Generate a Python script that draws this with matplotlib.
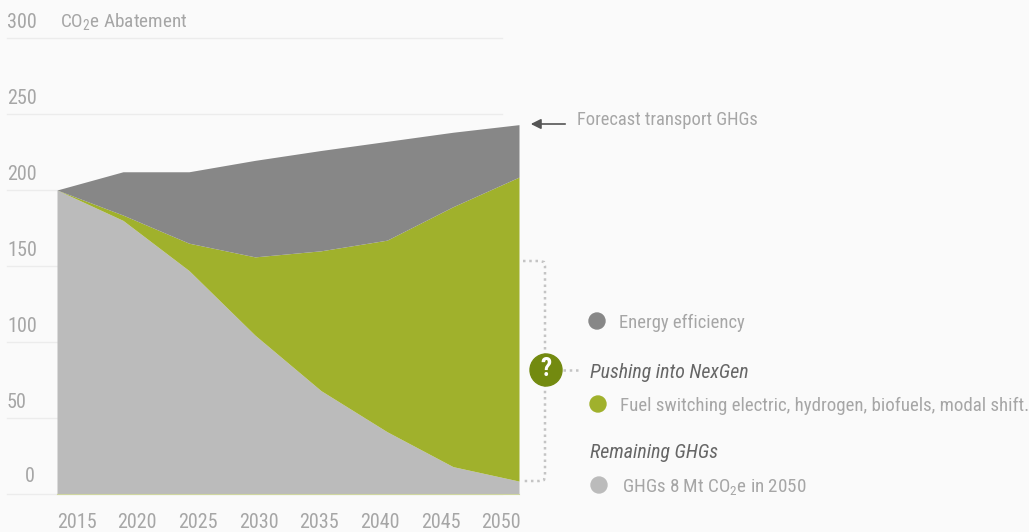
import matplotlib
matplotlib.use('Agg')
import matplotlib.pyplot as plt
from matplotlib.patches import Circle

plt.rcParams['font.family'] = ['Roboto Condensed', 'Roboto', 'DejaVu Sans']
plt.rcParams['mathtext.fontset'] = 'custom'
plt.rcParams['mathtext.rm'] = 'Roboto Condensed'
plt.rcParams['mathtext.default'] = 'regular'

years = [2015, 2020, 2025, 2030, 2035, 2040, 2045, 2050]
remaining_top = [200, 180, 147, 104.5, 68, 41, 18, 8.5]
fuel_top = [200, 183.5, 165, 156, 160, 167, 189, 208.5]
efficiency_top = [200, 212, 212, 219.5, 226, 232, 238, 243]

y_ticks = [0, 50, 100, 150, 200, 250, 300]
x_labels = ['2015', '2020', '2025', '2030', '2035', '2040', '2045', '2050']
x_label_px = [77, 137, 198, 259, 319, 380, 441, 501]

bg = '#fafafa'
grey_text = '#a6a6a6'
dark_text = '#666666'
c_remaining = '#bbbbbb'
c_fuel = '#a0b12c'
c_eff = '#878787'
W, H = 1029, 532

fig = plt.figure(figsize=(W / 100, H / 100), dpi=100, facecolor=bg)

# overlay in pixel coords for gridlines, labels and legend
ov = fig.add_axes([0, 0, 1, 1], zorder=0)
ov.set_xlim(0, W)
ov.set_ylim(H, 0)
ov.axis('off')

# chart area: 57-519 px across, 300 at y=38 and 0 at y=494
ax = fig.add_axes([57 / W, 1 - 494 / H, 462 / W, 456 / H], zorder=1)
ax.patch.set_alpha(0)
ax.set_xlim(years[0], years[-1])
ax.set_ylim(0, 300)
ax.axis('off')

ax.fill_between(years, 0, remaining_top, color=c_remaining, lw=0)
ax.fill_between(years, remaining_top, fuel_top, color=c_fuel, lw=0)
ax.fill_between(years, fuel_top, efficiency_top, color=c_eff, lw=0)
ax.plot([years[0], years[-1]], [0, 0], color='#cfd6a0', lw=0.8, clip_on=False)

fs = 14.5
for t in y_ticks:
    py = 494 - t * 456 / 300
    ov.plot([7, 502], [py, py], color='#ececec', lw=1)
    if t:
        ov.text(7, py - 16, str(t), color=grey_text, fontsize=fs, ha='left', va='center')
ov.text(35, 477, '0', color=grey_text, fontsize=fs, ha='right', va='center')

for lab, px in zip(x_labels, x_label_px):
    ov.text(px, 522, lab, color=grey_text, fontsize=fs, ha='center', va='center')

ov.text(60, 21, 'CO$_2$e Abatement', color=grey_text, fontsize=13.9, ha='left', va='center')

# forecast arrow
top = fig.add_axes([0, 0, 1, 1], zorder=2)
top.set_xlim(0, W)
top.set_ylim(H, 0)
top.axis('off')
top.annotate('', xy=(528, 124), xytext=(568, 124),
             arrowprops=dict(arrowstyle='-|>', color='#555555', lw=1.2, mutation_scale=15))
top.text(577, 120, 'Forecast transport GHGs', color=grey_text, fontsize=13.3, ha='left', va='center')

# dotted bracket
dots = dict(color='#c4c4c4', lw=1.8, ls=(0, (1, 1.5)))
top.plot([523, 539, 544, 545, 545, 544, 539, 523],
         [261, 261, 262, 266, 476, 480, 481, 481], **dots)
top.plot([563, 578], [370, 370], **dots)
top.add_patch(Circle((546, 370), 16, color='#738a10', zorder=3))
top.text(546, 369, '?', color='white', fontsize=18, fontweight='bold',
         ha='center', va='center', zorder=4)

# legend
for col, px, py in [(c_eff, 597, 321), (c_fuel, 598, 404), (c_remaining, 599, 485)]:
    top.add_patch(Circle((px, py), 8, color=col))
top.text(619, 323, 'Energy efficiency', color=grey_text, fontsize=13.4, va='center')
top.text(590, 372, 'Pushing into NexGen', color=dark_text, fontsize=14.3, style='italic', va='center')
top.text(620, 406, 'Fuel switching electric, hydrogen, biofuels, modal shift.', color=grey_text, fontsize=13.55, va='center')
top.text(590, 453, 'Remaining GHGs', color=dark_text, fontsize=14.3, style='italic', va='center')
top.text(622, 487, 'GHGs 8 Mt CO$_2$e in 2050', color=grey_text, fontsize=13.7, va='center')

fig.savefig('out.png', dpi=100, facecolor=bg)
